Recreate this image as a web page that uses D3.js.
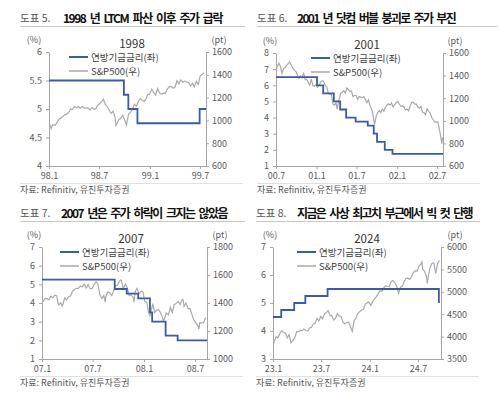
<!DOCTYPE html>
<html>
<head>
<meta charset="utf-8">
<script src="https://cdn.jsdelivr.net/npm/d3@7"></script>
<style>
  body { margin: 0; background: #fff; }
  svg text { font-family: "Noto Sans CJK KR", "Noto Sans", sans-serif; }
</style>
</head>
<body>
<svg id="chart" width="500" height="397"></svg>
<script>
// ---- data ----
var rate1998 = [["1998-01-01",5.5],["1998-09-29",5.25],["1998-10-15",5.0],["1998-11-17",4.75],["1999-06-30",5.0],["1999-07-23",5.0]];
var spx1998 = [["1998-01-02",975],["1998-01-09",927],["1998-01-14",962],["1998-01-16",961],["1998-01-23",957],["1998-01-30",980],["1998-02-06",1013],["1998-02-13",1020],["1998-02-20",1035],["1998-02-27",1049],["1998-03-06",1055],["1998-03-13",1069],["1998-03-20",1100],["1998-03-27",1095],["1998-04-03",1122],["1998-04-10",1110],["1998-04-17",1122],["1998-04-24",1107],["1998-05-01",1121],["1998-05-08",1109],["1998-05-15",1108],["1998-05-22",1110],["1998-05-29",1090],["1998-06-05",1113],["1998-06-12",1099],["1998-06-19",1100],["1998-06-26",1133],["1998-07-03",1146],["1998-07-10",1165],["1998-07-17",1186],["1998-07-24",1140],["1998-07-31",1120],["1998-08-07",1089],["1998-08-14",1062],["1998-08-21",1081],["1998-08-28",1027],["1998-08-31",957],["1998-09-04",973],["1998-09-11",1009],["1998-09-18",1020],["1998-09-25",1044],["1998-10-02",1002],["1998-10-08",959],["1998-10-16",1056],["1998-10-23",1070],["1998-10-30",1098],["1998-11-06",1141],["1998-11-13",1125],["1998-11-20",1163],["1998-11-27",1192],["1998-12-04",1176],["1998-12-11",1166],["1998-12-18",1188],["1998-12-24",1226],["1998-12-31",1229],["1999-01-08",1275],["1999-01-15",1243],["1999-01-22",1225],["1999-01-29",1280],["1999-02-05",1239],["1999-02-12",1230],["1999-02-19",1239],["1999-02-26",1238],["1999-03-05",1275],["1999-03-12",1294],["1999-03-19",1299],["1999-03-26",1283],["1999-04-02",1293],["1999-04-09",1348],["1999-04-16",1319],["1999-04-23",1356],["1999-04-30",1335],["1999-05-07",1345],["1999-05-14",1337],["1999-05-21",1330],["1999-05-28",1302],["1999-06-04",1327],["1999-06-11",1294],["1999-06-18",1342],["1999-06-25",1316],["1999-07-02",1391],["1999-07-09",1403],["1999-07-16",1418]];

var rate2001 = [["2000-07-01",6.5],["2001-01-03",6.0],["2001-01-31",5.5],["2001-03-20",5.0],["2001-04-18",4.5],["2001-05-15",4.0],["2001-06-27",3.75],["2001-08-21",3.5],["2001-09-17",3.0],["2001-10-02",2.5],["2001-11-06",2.0],["2001-12-11",1.75],["2002-07-28",1.75]];
var spx2001 = [["2000-07-03",1469],["2000-07-07",1478],["2000-07-14",1509],["2000-07-21",1480],["2000-07-28",1419],["2000-08-04",1462],["2000-08-11",1471],["2000-08-18",1491],["2000-08-25",1506],["2000-09-01",1520],["2000-09-08",1494],["2000-09-15",1466],["2000-09-22",1449],["2000-09-29",1436],["2000-10-06",1408],["2000-10-13",1374],["2000-10-20",1396],["2000-10-27",1379],["2000-11-03",1426],["2000-11-10",1365],["2000-11-17",1367],["2000-11-24",1341],["2000-12-01",1315],["2000-12-08",1369],["2000-12-15",1312],["2000-12-22",1305],["2000-12-29",1320],["2001-01-05",1298],["2001-01-12",1318],["2001-01-19",1342],["2001-01-26",1354],["2001-02-02",1349],["2001-02-09",1314],["2001-02-16",1301],["2001-02-23",1246],["2001-03-02",1234],["2001-03-09",1233],["2001-03-16",1150],["2001-03-23",1139],["2001-03-30",1160],["2001-04-04",1103],["2001-04-12",1183],["2001-04-20",1242],["2001-04-27",1253],["2001-05-04",1266],["2001-05-11",1245],["2001-05-18",1291],["2001-05-25",1277],["2001-06-01",1260],["2001-06-08",1264],["2001-06-15",1214],["2001-06-22",1225],["2001-06-29",1224],["2001-07-06",1190],["2001-07-13",1215],["2001-07-20",1210],["2001-07-27",1205],["2001-08-03",1214],["2001-08-10",1190],["2001-08-17",1161],["2001-08-24",1185],["2001-08-31",1134],["2001-09-10",1092],["2001-09-21",966],["2001-09-28",1041],["2001-10-05",1071],["2001-10-12",1091],["2001-10-19",1073],["2001-10-26",1104],["2001-11-02",1087],["2001-11-09",1120],["2001-11-16",1138],["2001-11-23",1150],["2001-11-30",1139],["2001-12-07",1158],["2001-12-14",1123],["2001-12-21",1144],["2001-12-28",1161],["2002-01-04",1173],["2002-01-11",1146],["2002-01-18",1128],["2002-01-25",1133],["2002-02-01",1122],["2002-02-08",1096],["2002-02-15",1104],["2002-02-22",1089],["2002-03-01",1132],["2002-03-08",1164],["2002-03-15",1166],["2002-03-22",1148],["2002-03-29",1147],["2002-04-05",1122],["2002-04-12",1111],["2002-04-19",1126],["2002-04-26",1076],["2002-05-03",1073],["2002-05-10",1054],["2002-05-17",1106],["2002-05-24",1083],["2002-05-31",1067],["2002-06-07",1028],["2002-06-14",1007],["2002-06-21",989],["2002-06-28",990],["2002-07-05",989],["2002-07-12",921],["2002-07-19",847],["2002-07-23",797],["2002-07-26",852]];

var rate2007 = [["2007-01-01",5.25],["2007-09-18",4.75],["2007-10-31",4.5],["2007-12-11",4.25],["2008-01-22",3.5],["2008-01-30",3.0],["2008-03-18",2.25],["2008-04-30",2.0],["2008-08-13",2.0]];
var spx2007 = [["2007-01-05",1410],["2007-01-12",1431],["2007-01-19",1431],["2007-01-26",1423],["2007-02-02",1449],["2007-02-09",1438],["2007-02-16",1456],["2007-02-23",1451],["2007-02-27",1400],["2007-03-02",1387],["2007-03-09",1402],["2007-03-14",1378],["2007-03-16",1386],["2007-03-23",1437],["2007-03-30",1421],["2007-04-05",1443],["2007-04-13",1452],["2007-04-20",1484],["2007-04-27",1495],["2007-05-04",1505],["2007-05-11",1505],["2007-05-18",1522],["2007-05-25",1515],["2007-06-01",1536],["2007-06-08",1507],["2007-06-15",1532],["2007-06-22",1502],["2007-06-29",1503],["2007-07-06",1530],["2007-07-13",1552],["2007-07-20",1534],["2007-07-27",1458],["2007-08-03",1433],["2007-08-10",1453],["2007-08-15",1406],["2007-08-17",1445],["2007-08-24",1479],["2007-08-31",1473],["2007-09-07",1453],["2007-09-14",1484],["2007-09-21",1525],["2007-09-28",1527],["2007-10-05",1557],["2007-10-09",1565],["2007-10-12",1561],["2007-10-19",1500],["2007-10-26",1535],["2007-11-02",1509],["2007-11-09",1453],["2007-11-16",1458],["2007-11-23",1440],["2007-11-26",1407],["2007-11-30",1481],["2007-12-07",1504],["2007-12-14",1467],["2007-12-21",1484],["2007-12-28",1478],["2008-01-04",1411],["2008-01-11",1401],["2008-01-18",1325],["2008-01-22",1310],["2008-01-25",1330],["2008-02-01",1395],["2008-02-08",1331],["2008-02-15",1349],["2008-02-22",1353],["2008-02-29",1330],["2008-03-07",1294],["2008-03-10",1273],["2008-03-14",1288],["2008-03-20",1330],["2008-03-28",1315],["2008-04-04",1370],["2008-04-11",1333],["2008-04-18",1390],["2008-04-25",1397],["2008-05-02",1413],["2008-05-09",1388],["2008-05-16",1425],["2008-05-19",1426],["2008-05-23",1375],["2008-05-30",1400],["2008-06-06",1360],["2008-06-13",1360],["2008-06-20",1318],["2008-06-27",1278],["2008-07-03",1262],["2008-07-11",1239],["2008-07-15",1214],["2008-07-18",1260],["2008-07-25",1257],["2008-08-01",1260],["2008-08-08",1296]];

var rate2024 = [["2023-01-01",4.5],["2023-02-01",4.75],["2023-03-22",5.0],["2023-05-03",5.25],["2023-07-26",5.5],["2024-09-18",5.0]];
var spx2024 = [["2023-01-03",3825],["2023-01-06",3895],["2023-01-13",3999],["2023-01-20",3973],["2023-01-27",4071],["2023-02-03",4136],["2023-02-10",4090],["2023-02-17",4079],["2023-02-24",3970],["2023-03-03",4045],["2023-03-10",3862],["2023-03-17",3917],["2023-03-24",3971],["2023-03-31",4109],["2023-04-06",4105],["2023-04-14",4138],["2023-04-21",4133],["2023-04-28",4169],["2023-05-05",4136],["2023-05-12",4124],["2023-05-19",4192],["2023-05-26",4205],["2023-06-02",4282],["2023-06-09",4299],["2023-06-16",4410],["2023-06-23",4348],["2023-06-30",4450],["2023-07-07",4399],["2023-07-14",4505],["2023-07-21",4536],["2023-07-28",4582],["2023-08-04",4478],["2023-08-11",4464],["2023-08-18",4370],["2023-08-25",4406],["2023-09-01",4516],["2023-09-08",4457],["2023-09-15",4450],["2023-09-22",4320],["2023-09-29",4288],["2023-10-06",4309],["2023-10-13",4327],["2023-10-20",4224],["2023-10-27",4117],["2023-11-03",4358],["2023-11-10",4415],["2023-11-17",4514],["2023-11-24",4559],["2023-12-01",4595],["2023-12-08",4604],["2023-12-15",4719],["2023-12-22",4754],["2023-12-29",4770],["2024-01-05",4697],["2024-01-12",4784],["2024-01-19",4840],["2024-01-26",4891],["2024-02-02",4959],["2024-02-09",5027],["2024-02-16",5006],["2024-02-23",5089],["2024-03-01",5137],["2024-03-08",5124],["2024-03-15",5117],["2024-03-22",5234],["2024-03-28",5254],["2024-04-05",5204],["2024-04-12",5123],["2024-04-19",4967],["2024-04-26",5100],["2024-05-03",5128],["2024-05-10",5223],["2024-05-17",5303],["2024-05-24",5305],["2024-05-31",5278],["2024-06-07",5347],["2024-06-14",5432],["2024-06-21",5465],["2024-06-28",5460],["2024-07-05",5567],["2024-07-12",5615],["2024-07-16",5667],["2024-07-19",5505],["2024-07-26",5459],["2024-08-02",5347],["2024-08-05",5186],["2024-08-09",5344],["2024-08-16",5554],["2024-08-23",5634],["2024-08-30",5648],["2024-09-06",5408],["2024-09-13",5626],["2024-09-20",5702]];

var xTicks1998 = ["1998-01-01","1998-07-01","1999-01-01","1999-07-01"];
var xLabels1998 = ["98.1","98.7","99.1","99.7"];
var xTicks2001 = ["2000-07-01","2001-01-01","2001-07-01","2002-01-01","2002-07-01"];
var xLabels2001 = ["00.7","01.1","01.7","02.1","02.7"];
var xTicks2007 = ["2007-01-01","2007-07-01","2008-01-01","2008-07-01"];
var xLabels2007 = ["07.1","07.7","08.1","08.7"];
var xTicks2024 = ["2023-01-01","2023-07-01","2024-01-01","2024-07-01"];
var xLabels2024 = ["23.1","23.7","24.1","24.7"];

var legendRate = "연방기금금리(좌)";
var legendSpx = "S&P500(우)";
var sourceText = "자료: Refinitiv, 유진투자증권";

var blue = "#3b5ba5";
var grey = "#a9a9a9";
var axisColor = "#a6a6a6";
var labelColor = "#595959";

var svg = d3.select("#chart");
var parse = d3.timeParse("%Y-%m-%d");

var panels = [
  { num: "도표 5.", title: "1998 년 LTCM 파산 이후 주가 급락", year: "1998",
    py: 0, numX: 20, titleX: 63, titleLen: 159, lineEnd: 245,
    left: 49, right: 206, top: 52, bottom: 166,
    xDom: ["1998-01-01","1999-07-23"], yL: [4, 6], yR: [600, 1600],
    yLTicks: [4, 4.5, 5, 5.5, 6], yRTicks: [600, 800, 1000, 1200, 1400, 1600],
    xTicks: xTicks1998, xLabels: xLabels1998, rate: rate1998, spx: spx1998,
    pctX: 34, ptX: 219, yearX: 132, legX: 69 },
  { num: "도표 6.", title: "2001 년 닷컴 버블 붕괴로 주가 부진", year: "2001",
    py: 0, numX: 257, titleX: 297, titleLen: 158, lineEnd: 497,
    left: 276, right: 443, top: 53, bottom: 166,
    xDom: ["2000-07-01","2002-07-28"], yL: [1, 8], yR: [600, 1600],
    yLTicks: [1, 2, 3, 4, 5, 6, 7, 8], yRTicks: [600, 800, 1000, 1200, 1400, 1600],
    xTicks: xTicks2001, xLabels: xLabels2001, rate: rate2001, spx: spx2001,
    pctX: 270, ptX: 455, yearX: 367, legX: 311 },
  { num: "도표 7.", title: "2007 년은 주가 하락이 크지는 않았음", year: "2007",
    py: 195, numX: 20, titleX: 61, titleLen: 166, lineEnd: 245,
    left: 42, right: 207, top: 247, bottom: 359,
    xDom: ["2007-01-01","2008-08-13"], yL: [1, 7], yR: [1000, 1800],
    yLTicks: [1, 2, 3, 4, 5, 6, 7], yRTicks: [1000, 1200, 1400, 1600, 1800],
    xTicks: xTicks2007, xLabels: xLabels2007, rate: rate2007, spx: spx2007,
    pctX: 34, ptX: 220, yearX: 131, legX: 60 },
  { num: "도표 8.", title: "지금은 사상 최고치 부근에서 빅 컷 단행", year: "2024",
    py: 195, numX: 256, titleX: 297, titleLen: 175, lineEnd: 480,
    left: 273, right: 441, top: 247, bottom: 359,
    xDom: ["2023-01-01","2024-09-26"], yL: [3, 7], yR: [3500, 6000],
    yLTicks: [3, 4, 5, 6, 7], yRTicks: [3500, 4000, 4500, 5000, 5500, 6000],
    xTicks: xTicks2024, xLabels: xLabels2024, rate: rate2024, spx: spx2024,
    pctX: 270, ptX: 455, yearX: 367, legX: 297 }
];

function styleAxis(g) {
  g.attr("font-size", null).attr("font-family", null);
  g.select(".domain").attr("stroke", axisColor);
  g.selectAll(".tick line").attr("stroke", axisColor);
  g.selectAll(".tick text").attr("fill", labelColor).style("font-size", "9px");
}

panels.forEach(function(p) {
  var g = svg.append("g");
  var ty = p.py;

  // titles
  g.append("text").attr("x", p.numX).attr("y", ty + 22)
    .attr("fill", "#555").style("font-size", "10.5px").text(p.num);
  var t = g.append("text").attr("x", p.titleX).attr("y", ty + 23)
    .attr("fill", "#111").style("font-size", "12px").style("font-weight", "bold")
    .style("word-spacing", "3px")
    .text(p.title);
  // squeeze the letters so the title fits the width it has in the reference
  var natural = t.node().getComputedTextLength();
  t.style("letter-spacing", ((p.titleLen - natural) / p.title.length) + "px");
  g.append("line").attr("x1", p.numX).attr("x2", p.lineEnd)
    .attr("y1", ty + 26.5).attr("y2", ty + 26.5).attr("stroke", "#c8c8c8");

  var x = d3.scaleTime().domain(p.xDom.map(parse)).range([p.left, p.right]);
  var yL = d3.scaleLinear().domain(p.yL).range([p.bottom, p.top]);
  var yR = d3.scaleLinear().domain(p.yR).range([p.bottom, p.top]);

  g.append("g").attr("transform", "translate(" + p.left + ",0)")
    .call(d3.axisLeft(yL).tickValues(p.yLTicks).tickSize(3).tickSizeOuter(0)
      .tickPadding(4).tickFormat(d3.format("~g")))
    .call(styleAxis);
  g.append("g").attr("transform", "translate(" + p.right + ",0)")
    .call(d3.axisRight(yR).tickValues(p.yRTicks).tickSize(3).tickSizeOuter(0)
      .tickPadding(3).tickFormat(d3.format("d")))
    .call(styleAxis);
  g.append("g").attr("transform", "translate(0," + p.bottom + ")")
    .call(d3.axisBottom(x).tickValues(p.xTicks.map(parse)).tickSize(3).tickSizeOuter(0)
      .tickPadding(4).tickFormat(function(d, i) { return p.xLabels[i]; }))
    .call(styleAxis);

  g.append("text").attr("x", p.pctX).attr("y", p.top - 9).attr("text-anchor", "middle")
    .attr("fill", labelColor).style("font-size", "9px").text("(%)");
  g.append("text").attr("x", p.ptX).attr("y", p.top - 9).attr("text-anchor", "middle")
    .attr("fill", labelColor).style("font-size", "9px").text("(pt)");

  g.append("text").attr("x", p.yearX).attr("y", p.top - 4).attr("text-anchor", "middle")
    .attr("fill", "#333").style("font-size", "11.5px").text(p.year);

  var spxLine = d3.line()
    .x(function(d) { return x(parse(d[0])); })
    .y(function(d) { return yR(d[1]); });
  var rateLine = d3.line()
    .curve(d3.curveStepAfter)
    .x(function(d) { return x(parse(d[0])); })
    .y(function(d) { return yL(d[1]); });

  g.append("path").datum(p.spx).attr("d", spxLine)
    .attr("fill", "none").attr("stroke", grey).attr("stroke-width", 1.2);
  g.append("path").datum(p.rate).attr("d", rateLine)
    .attr("fill", "none").attr("stroke", blue).attr("stroke-width", 1.8);

  // legend
  var ly = p.top + 5;
  g.append("line").attr("x1", p.legX).attr("x2", p.legX + 19)
    .attr("y1", ly).attr("y2", ly).attr("stroke", blue).attr("stroke-width", 2);
  g.append("text").attr("x", p.legX + 22).attr("y", ly + 3.5)
    .attr("fill", "#404040").style("font-size", "9.5px").text(legendRate);
  g.append("line").attr("x1", p.legX).attr("x2", p.legX + 19)
    .attr("y1", ly + 14).attr("y2", ly + 14).attr("stroke", grey).attr("stroke-width", 1.5);
  g.append("text").attr("x", p.legX + 22).attr("y", ly + 17.5)
    .attr("fill", "#404040").style("font-size", "9.5px").text(legendSpx);

  // source
  g.append("line").attr("x1", p.numX).attr("x2", p.numX + 223)
    .attr("y1", p.bottom + 17.5).attr("y2", p.bottom + 17.5).attr("stroke", "#e0e0e0");
  g.append("text").attr("x", p.numX).attr("y", p.bottom + 27)
    .attr("fill", "#555").style("font-size", "9px").text(sourceText);
});
</script>
</body>
</html>
